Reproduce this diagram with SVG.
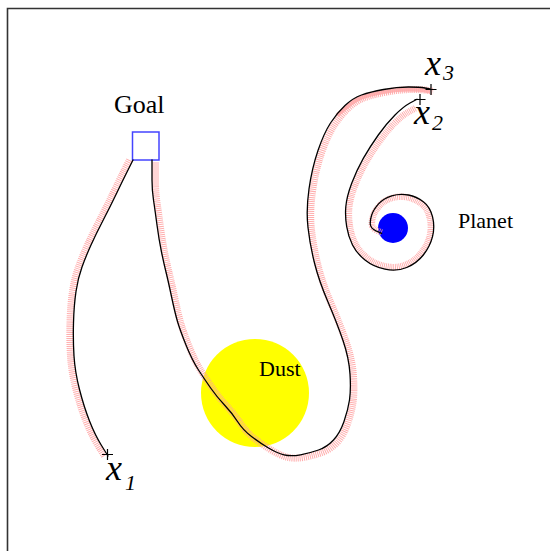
<svg xmlns="http://www.w3.org/2000/svg" width="550" height="551" viewBox="0 0 550 551">
<style>
.frame{stroke:#333;stroke-width:1.6;fill:none}
.traj{fill:none;stroke:#000;stroke-width:1.3;stroke-linejoin:round;stroke-linecap:round}
.band{fill:none;stroke:#ff9f9f;stroke-width:7;stroke-dasharray:1 1;opacity:0.85;stroke-linejoin:round}
.bandsolid{fill:none;stroke:#ffa8a8;stroke-width:4;opacity:0.85;stroke-linejoin:round}
.lbl{font-family:"Liberation Serif","Times New Roman",serif;fill:#000}
.math{font-family:"Liberation Serif","Times New Roman",serif;font-style:italic;fill:#000}
.mark{stroke:#000;stroke-width:1.2}
</style>
<rect x="0" y="0" width="550" height="551" fill="#fff"/>
<path class="frame" d="M7.5,551 V8.5 H550"/>

<g id="dust">
<circle cx="255" cy="393" r="54" fill="#ffff00"/>
<text class="lbl" x="259" y="376" font-size="22">Dust</text>
</g>

<g id="planet">
<circle cx="393" cy="228" r="15" fill="#0000ff"/>
<text class="lbl" x="458" y="228" font-size="22">Planet</text>
</g>

<g id="goal">
<rect x="132.5" y="132" width="26.5" height="28" fill="none" stroke="#4444ff" stroke-width="1.5"/>
<text class="lbl" x="114" y="113" font-size="26">Goal</text>
</g>

<g id="connectors">
<!-- pink hatched bands -->
<g transform="translate(-3.5,0)">
<path class="band" d="M133,160 L128,170 Q123,180 116.5,193.5 Q110,207 103,220.5 Q96,234 91,245 Q86,256 82,267 Q78,278 76,291.5 Q74,305 73.5,322.5 Q73,340 74,356 Q75,372 79.5,389.5 Q84,407 89.5,421 Q95,435 101.5,445.5 L108,456"/>
</g>
<g transform="translate(3.5,2.5)">
<path class="band" d="M152,160 L152,180 Q152,190 153.5,200 Q155,210 157,225 Q159,240 161.5,252 Q164,264 166,272 Q168,280 171.5,296.5 Q175,313 177.5,321.5 Q180,330 186,345 Q192,360 198.5,370 Q205,380 211,388.5 Q217,397 224.5,405 Q232,413 237.5,421.5 Q243,430 251.5,436.5 Q260,443 268.5,448 Q277,453 284,454.8 Q291,456.5 300.5,454.8 Q310,453 318.5,450 Q327,447 333.5,440 Q340,433 344,421.5 Q348,410 349.5,400 Q351,390 350,374 Q349,358 343,340.5 Q337,323 328,302 Q319,281 314.5,263 Q310,245 308,227.5 Q306,210 309,189 Q312,168 318,150.5 Q324,133 330.5,123 Q337,113 345,105.5 Q353,98 361.5,95 Q370,92 383.5,89.5 Q397,87 408.5,87 Q420,87 425,88 L430,89"/>
</g>
<path class="bandsolid" transform="translate(0,2.5)" d="M337,113 Q353,98 361.5,95 Q370,92 383.5,89.5 Q397,87 408.5,87 Q420,87 425,88 L430,89"/>
<g transform="translate(393,228) scale(0.93) translate(-393,-228)">
<path class="band" d="M417,99.3 L410,103 Q403.3,106.7 395,115 Q386.7,123.3 378.3,135 Q370,146.7 363.3,158.3 Q356.7,170 351.7,183.3 Q346.7,196.7 345.8,206.7 Q345,216.7 346.7,226.7 Q348.3,236.7 352.5,245 Q356.7,253.3 365,260 Q373.3,266.7 385,269.2 Q396.7,271.7 406.7,267.5 Q416.7,263.3 423.3,255 Q430,246.7 432.5,236.7 Q435,226.7 432.5,216.7 Q430,206.7 423.3,201.7 Q416.7,196.7 408.3,195 Q400,193.3 391.7,195.8 Q383.3,198.3 378.3,204.2 Q373.3,210 371.7,215 Q370,220 370.3,224.2 Q370.7,228.3 376,230.8 L381.7,233.3"/>
</g>

<!-- black trajectories -->
<path class="traj" d="M133,160 L128,170 Q123,180 116.5,193.5 Q110,207 103,220.5 Q96,234 91,245 Q86,256 82,267 Q78,278 76,291.5 Q74,305 73.5,322.5 Q73,340 74,356 Q75,372 79.5,389.5 Q84,407 89.5,421 Q95,435 101.5,445.5 L108,456"/>
<path class="traj" d="M152,160 L152,180 Q152,190 153.5,200 Q155,210 157,225 Q159,240 161.5,252 Q164,264 166,272 Q168,280 171.5,296.5 Q175,313 177.5,321.5 Q180,330 186,345 Q192,360 198.5,370 Q205,380 211,388.5 Q217,397 224.5,405 Q232,413 237.5,421.5 Q243,430 251.5,436.5 Q260,443 268.5,448 Q277,453 284,454.8 Q291,456.5 300.5,454.8 Q310,453 318.5,450 Q327,447 333.5,440 Q340,433 344,421.5 Q348,410 349.5,400 Q351,390 350,374 Q349,358 343,340.5 Q337,323 328,302 Q319,281 314.5,263 Q310,245 308,227.5 Q306,210 309,189 Q312,168 318,150.5 Q324,133 330.5,123 Q337,113 345,105.5 Q353,98 361.5,95 Q370,92 383.5,89.5 Q397,87 408.5,87 Q420,87 425,88 L430,89"/>
<path class="traj" d="M417,99.3 L410,103 Q403.3,106.7 395,115 Q386.7,123.3 378.3,135 Q370,146.7 363.3,158.3 Q356.7,170 351.7,183.3 Q346.7,196.7 345.8,206.7 Q345,216.7 346.7,226.7 Q348.3,236.7 352.5,245 Q356.7,253.3 365,260 Q373.3,266.7 385,269.2 Q396.7,271.7 406.7,267.5 Q416.7,263.3 423.3,255 Q430,246.7 432.5,236.7 Q435,226.7 432.5,216.7 Q430,206.7 423.3,201.7 Q416.7,196.7 408.3,195 Q400,193.3 391.7,195.8 Q383.3,198.3 378.3,204.2 Q373.3,210 371.7,215 Q370,220 370.3,224.2 Q370.7,228.3 376,230.8 L381.7,233.3"/>
</g>

<g id="x1">
<path class="mark" d="M102,454.5 H113 M107.5,449 V460"/>
<text class="math" x="106" y="480" font-size="36">x</text>
<text class="math" x="125" y="490" font-size="22">1</text>
</g>
<g id="x2">
<path class="mark" d="M414.5,99.5 H425.5 M420,94 V105"/>
<text class="math" x="414" y="123.5" font-size="36">x</text>
<text class="math" x="432" y="129.5" font-size="22">2</text>
</g>
<g id="x3">
<path class="mark" d="M425.5,89.5 H436.5 M431,84 V95"/>
<text class="math" x="425" y="75" font-size="36">x</text>
<text class="math" x="443" y="80" font-size="22">3</text>
</g>
</svg>
